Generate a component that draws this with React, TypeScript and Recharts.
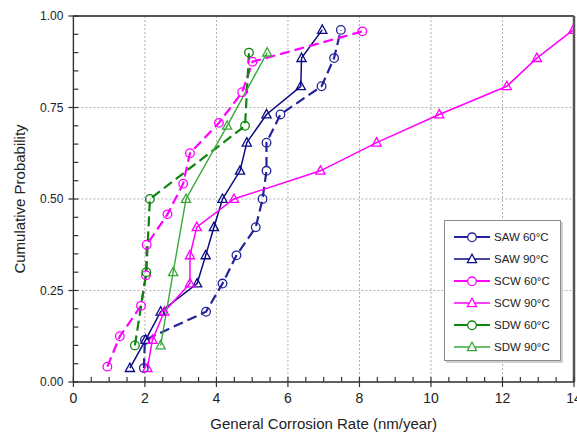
import React from 'react';
import { ComposedChart, Line, XAxis, YAxis, CartesianGrid, Legend, ReferenceLine } from 'recharts';

// plotting positions for 13, 12 and 5 specimen sets
const probs13 = [0.038, 0.115, 0.192, 0.269, 0.346, 0.423, 0.5, 0.577, 0.654, 0.731, 0.808, 0.885, 0.962];
const probs12 = [0.042, 0.125, 0.208, 0.292, 0.375, 0.458, 0.542, 0.625, 0.708, 0.792, 0.875, 0.958];
const probs5 = [0.1, 0.3, 0.5, 0.7, 0.9];

// general corrosion rates, nm/year
const sawRate60 = [1.97, 2.0, 3.71, 4.17, 4.56, 5.1, 5.29, 5.4, 5.4, 5.79, 6.94, 7.29, 7.48];
const sawRate90 = [1.58, 2.02, 2.44, 3.46, 3.7, 3.93, 4.17, 4.66, 4.85, 5.4, 6.36, 6.38, 6.96];
const scwRate60 = [0.95, 1.3, 1.89, 2.03, 2.05, 2.63, 3.07, 3.26, 4.07, 4.72, 5.01, 8.08];
const scwRate90 = [2.07, 2.21, 2.54, 3.26, 3.26, 3.45, 4.49, 6.91, 8.48, 10.23, 12.12, 12.96, 13.98];
const sdwRate60 = [1.72, 2.04, 2.14, 4.8, 4.91];
const sdwRate90 = [2.44, 2.79, 3.15, 4.3, 5.42];

const xTicks = [0, 2, 4, 6, 8, 10, 12, 14];
const yTicks = [0, 0.25, 0.5, 0.75, 1];
// every tick mark, labelled or not
const xMinorTicks = Array.from({ length: 29 }, (_, i) => i * 0.5);
const yMinorTicks = Array.from({ length: 21 }, (_, i) => +(i * 0.05).toFixed(2));

const FONT = '"Liberation Sans", Arial, sans-serif';
const AXIS = '#333';
const FRAME = '#555';

// the chart runs right up to the page edge, so drop the body margin and pad instead
if (typeof document !== 'undefined') document.body.style.margin = '0';

const series = [
  { name: 'SAW 60°C', rate: sawRate60, prob: probs13, color: '#23239a', marker: 'circle', dash: '10 5', width: 2.2 },
  { name: 'SAW 90°C', rate: sawRate90, prob: probs13, color: '#0a0a82', marker: 'triangle', dash: undefined, width: 1.5 },
  { name: 'SCW 60°C', rate: scwRate60, prob: probs12, color: '#ff00ff', marker: 'circle', dash: '10 5', width: 2.2 },
  { name: 'SCW 90°C', rate: scwRate90, prob: probs13, color: '#ff00ff', marker: 'triangle', dash: undefined, width: 1.5 },
  { name: 'SDW 60°C', rate: sdwRate60, prob: probs5, color: '#0d840d', marker: 'circle', dash: '10 5', width: 2.2 },
  { name: 'SDW 90°C', rate: sdwRate90, prob: probs5, color: '#3aa83a', marker: 'triangle', dash: undefined, width: 1.4 },
];

const isMajor = (v: number, step: number) => Math.abs(v / step - Math.round(v / step)) < 1e-6;

// bottom axis: short inward mark everywhere, crossing mark + label on the majors
const XTick = ({ x, y, payload }: any) => {
  const major = isMajor(payload.value, 2);
  return (
    <g>
      <line x1={x} x2={x} y1={y - 5} y2={major ? y + 5 : y} stroke={AXIS} strokeWidth={1.2} />
      {major && (
        <text x={x} y={y + 11} dy="0.71em" textAnchor="middle" fill="#222" fontSize={14}>
          {payload.value}
        </text>
      )}
    </g>
  );
};

const YTick = ({ x, y, payload }: any) => {
  const major = isMajor(payload.value, 0.25);
  return (
    <g>
      <line x1={major ? x - 5 : x} x2={x + 5} y1={y} y2={y} stroke={AXIS} strokeWidth={1.2} />
      {major && (
        <text x={x - 10} y={y} dy="0.355em" textAnchor="end" fill="#222" fontSize={12}>
          {payload.value.toFixed(2)}
        </text>
      )}
    </g>
  );
};

const MarkerShape = ({ cx, cy, shape, color, fill }: any) => {
  if (shape === 'circle') {
    return <circle cx={cx} cy={cy} r={4.3} fill={fill} stroke={color} strokeWidth={1.3} />;
  }
  return (
    <polygon
      points={`${cx},${cy - 5} ${cx - 4.6},${cy + 3.4} ${cx + 4.6},${cy + 3.4}`}
      fill={fill}
      stroke={color}
      strokeWidth={1.3}
    />
  );
};

const makeDot = (shape: string, color: string) => (props: any) => {
  const { cx, cy, index } = props;
  if (cx == null || cy == null) return <g key={index} />;
  return (
    <g key={index}>
      <MarkerShape cx={cx} cy={cy} shape={shape} color={color} fill="none" />
    </g>
  );
};

const LegendBox = () => (
  <div
    style={{
      width: 117,
      height: 141,
      boxSizing: 'border-box',
      border: '1px solid #8c8c8c',
      boxShadow: '2px 2px 0 #d0d0d0',
      background: '#fff',
      paddingTop: 5,
      fontFamily: FONT,
      fontSize: 11.5,
      color: '#222',
    }}
  >
    {series.map((s) => (
      <div key={s.name} style={{ display: 'flex', alignItems: 'center', height: 22 }}>
        <svg width={49} height={12} style={{ display: 'block' }}>
          <line x1={9} x2={45} y1={6} y2={6} stroke={s.color} strokeWidth={s.dash ? 2.2 : 1.6} />
          <MarkerShape cx={27} cy={6.3} shape={s.marker} color={s.color} fill="#fff" />
        </svg>
        <span>{s.name}</span>
      </div>
    ))}
  </div>
);

export default function App() {
  return (
    <div style={{ width: 577, height: 434, padding: '8px 0 0 8px', boxSizing: 'border-box', fontFamily: FONT }}>
      <ComposedChart width={569} height={426} margin={{ top: 8, right: 3, bottom: 0, left: 0 }}>
        <CartesianGrid
          stroke="#b0b0b0"
          strokeDasharray="2 2"
          verticalValues={xTicks}
          horizontalValues={yTicks}
        />
        <XAxis
          type="number"
          dataKey="x"
          domain={[0, 14]}
          ticks={xMinorTicks}
          interval={0}
          allowDataOverflow
          height={52}
          tickSize={0}
          tickMargin={0}
          tickLine={false}
          axisLine={{ stroke: AXIS, strokeWidth: 1.4 }}
          tick={<XTick />}
          label={{
            value: 'General Corrosion Rate (nm/year)',
            position: 'insideBottom',
            offset: 5,
            style: { fill: '#222', fontSize: 15 },
          }}
        />
        <YAxis
          type="number"
          domain={[0, 1]}
          ticks={yMinorTicks}
          interval={0}
          width={65.4}
          tickSize={0}
          tickMargin={0}
          tickLine={false}
          axisLine={{ stroke: AXIS, strokeWidth: 1.4 }}
          tick={<YTick />}
          label={{
            value: 'Cumulative Probability',
            angle: -90,
            position: 'insideLeft',
            offset: 12,
            style: { textAnchor: 'middle', fill: '#222', fontSize: 15 },
          }}
        />
        {/* plot frame along the top and right */}
        <ReferenceLine y={1} stroke={FRAME} strokeWidth={2} ifOverflow="visible" />
        <ReferenceLine x={14} stroke={FRAME} strokeWidth={2.5} ifOverflow="visible" />
        {series.map((s) => (
          <Line
            key={s.name}
            name={s.name}
            data={s.rate.map((r, i) => ({ x: r, p: s.prob[i] }))}
            dataKey="p"
            type="linear"
            stroke={s.color}
            strokeWidth={s.width}
            strokeDasharray={s.dash}
            dot={makeDot(s.marker, s.color)}
            activeDot={false}
            isAnimationActive={false}
          />
        ))}
        <Legend
          layout="vertical"
          align="center"
          verticalAlign="middle"
          content={() => <LegendBox />}
          wrapperStyle={{ left: 436, top: 212, width: 117, height: 141 }}
        />
      </ComposedChart>
    </div>
  );
}
